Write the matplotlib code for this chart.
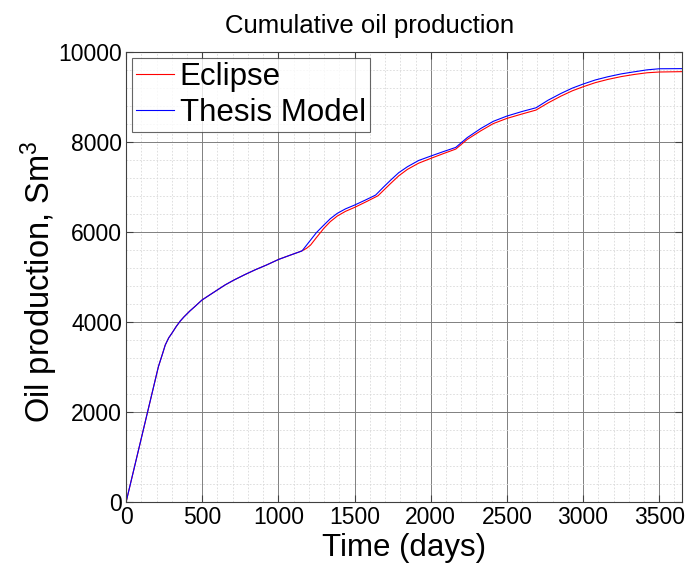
import matplotlib
matplotlib.use("Agg")
import matplotlib.pyplot as plt
from matplotlib.ticker import MultipleLocator, AutoMinorLocator

plt.rcParams['font.family'] = ['Liberation Sans', 'DejaVu Sans']
plt.rcParams['mathtext.fontset'] = 'custom'
plt.rcParams['mathtext.rm'] = 'Liberation Sans'
plt.rcParams['mathtext.it'] = 'Liberation Sans:italic'

# Shared early-time response (both simulators agree before the first kink)
t_early = [0, 114, 212, 240, 257, 280, 300, 330, 355, 380, 420, 450, 498, 550, 600,
           650, 706, 780, 850, 920, 1002, 1080, 1150]
q_early = [0, 1617, 3007, 3303, 3489, 3650, 3748, 3905, 4020, 4115, 4250, 4340, 4489,
           4605, 4715, 4825, 4930, 5055, 5165, 5265, 5393, 5490, 5575]

# Eclipse cumulative oil after 1150 days
t_eclipse_late = [1184, 1211, 1250, 1298, 1340, 1386, 1440, 1500, 1580, 1654, 1700,
                  1737, 1790, 1847, 1920, 2000, 2080, 2164, 2240, 2329, 2410, 2500,
                  2600, 2691, 2770, 2855, 2930, 3000, 3080, 3162, 3250, 3337, 3420,
                  3500, 3650]
q_eclipse_late = [5637, 5711, 5880, 6082, 6230, 6355, 6460, 6548, 6680, 6807, 6960,
                  7081, 7250, 7393, 7530, 7637, 7740, 7844, 8060, 8251, 8410, 8526,
                  8625, 8711, 8870, 9022, 9140, 9229, 9320, 9392, 9455, 9503, 9540,
                  9557, 9565]

# Thesis model cumulative oil after 1150 days
t_thesis_late = [1156, 1211, 1250, 1298, 1340, 1386, 1440, 1500, 1570, 1638, 1690,
                 1737, 1790, 1847, 1920, 2000, 2080, 2164, 2240, 2329, 2410, 2500,
                 2600, 2691, 2770, 2855, 2930, 3000, 3080, 3162, 3250, 3337, 3420,
                 3500, 3650]
q_thesis_late = [5585, 5822, 5990, 6155, 6295, 6415, 6515, 6600, 6710, 6822, 7000,
                 7155, 7320, 7452, 7590, 7689, 7785, 7881, 8100, 8303, 8460, 8578,
                 8680, 8762, 8930, 9081, 9200, 9289, 9380, 9451, 9515, 9562, 9605,
                 9629, 9632]

t_eclipse = t_early + t_eclipse_late
q_eclipse = q_early + q_eclipse_late
t_thesis = t_early + t_thesis_late
q_thesis = q_early + q_thesis_late

fig = plt.figure(figsize=(6.89, 5.66), dpi=100)
ax = fig.add_axes([0.183, 0.113, 0.807, 0.795])

ax.plot(t_eclipse, q_eclipse, color='red', lw=0.8, label='Eclipse')
ax.plot(t_thesis, q_thesis, color='blue', lw=0.8, label='Thesis Model')

ax.set_xlim(0, 3650)
ax.set_ylim(0, 10000)
ax.xaxis.set_major_locator(MultipleLocator(500))
ax.yaxis.set_major_locator(MultipleLocator(2000))
ax.xaxis.set_minor_locator(AutoMinorLocator(5))
ax.yaxis.set_minor_locator(AutoMinorLocator(5))

ax.grid(which='major', color='#808080', lw=0.7, ls='-')
ax.grid(which='minor', color='#d9d9d9', lw=0.6, ls=(0, (2, 2)))
ax.set_axisbelow(True)

ax.tick_params(which='both', direction='in', top=True, right=True, labelsize=16.5,
               color='#404040', pad=3)
ax.tick_params(which='major', length=5)
ax.tick_params(which='minor', length=0)
for s in ax.spines.values():
    s.set_color('#404040')
    s.set_linewidth(0.8)

fig.text(0.536, 1 - 33 / 566, 'Cumulative oil production', fontsize=18.5,
         ha='center', va='baseline')
ax.set_xlabel('Time (days)', fontsize=22.5, labelpad=3)
ax.set_ylabel('Oil production, Sm$^3$', fontsize=23.5)
ax.yaxis.set_label_coords(-0.118, 0.49)

leg = ax.legend(loc='upper left', fontsize=22.5, frameon=True, fancybox=False,
                edgecolor='#404040', handlelength=1.22, handletextpad=0.18,
                borderpad=0.12, labelspacing=0.2, borderaxespad=0.2)
leg.get_frame().set_linewidth(0.8)

fig.savefig('out.png', dpi=100)
